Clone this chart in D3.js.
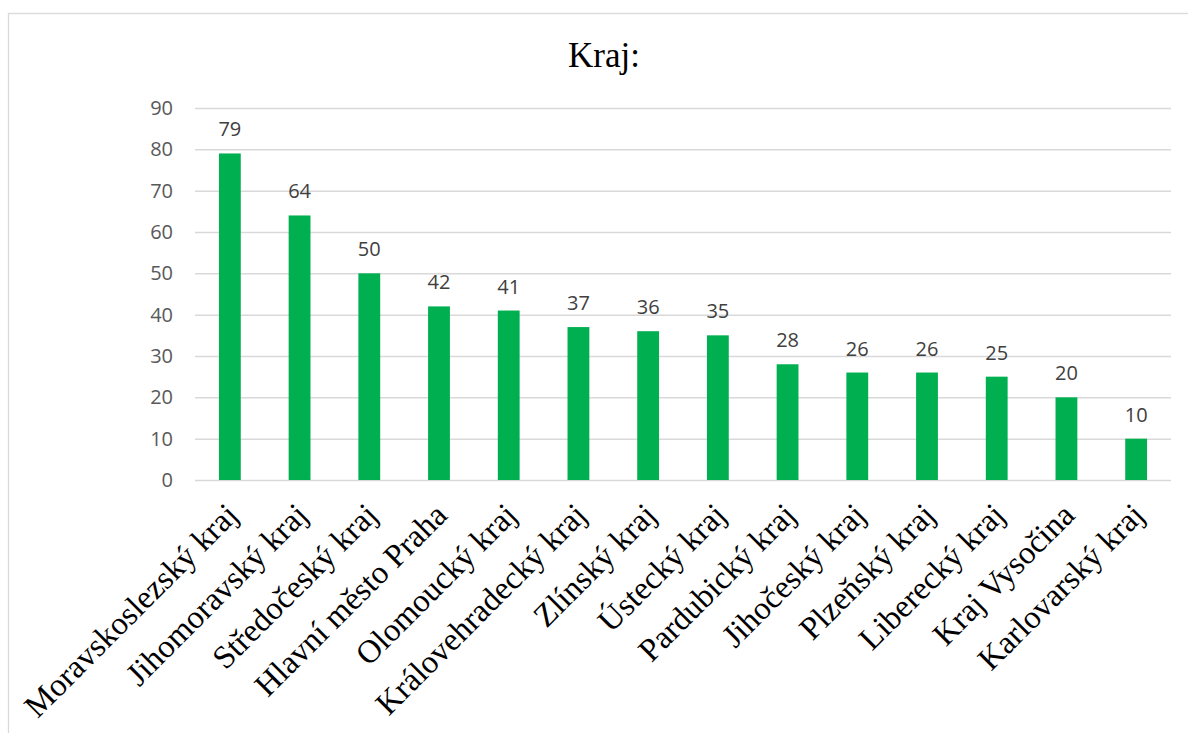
<!DOCTYPE html>
<html>
<head>
<meta charset="utf-8">
<script src="https://cdn.jsdelivr.net/npm/d3@7"></script>
<style>
  html, body { margin: 0; padding: 0; background: #fff; }
  svg { display: block; }
</style>
</head>
<body>
<svg id="chart" width="1188" height="733"></svg>
<script>
// Počet podle krajů
const categories = [
  "Moravskoslezský kraj", "Jihomoravský kraj", "Středočeský kraj", "Hlavní město Praha",
  "Olomoucký kraj", "Královehradecký kraj", "Zlínský kraj", "Ústecký kraj",
  "Pardubický kraj", "Jihočeský kraj", "Plzeňský kraj", "Liberecký kraj",
  "Kraj Vysočina", "Karlovarský kraj"
];
const values = [79, 64, 50, 42, 41, 37, 36, 35, 28, 26, 26, 25, 20, 10];
const yTicks = [0, 10, 20, 30, 40, 50, 60, 70, 80, 90];
const title = "Kraj:";

const svg = d3.select("#chart");
const W = 1188, H = 733;
const plot = { left: 195, right: 1171, top: 108, bottom: 480 };

// Chart frame
svg.append("rect")
  .attr("x", 8.5).attr("y", 13.5)
  .attr("width", W + 10).attr("height", H + 10)
  .attr("fill", "#fff").attr("stroke", "#d9d9d9").attr("stroke-width", 1.3);

const x = d3.scaleBand()
  .domain(categories)
  .range([plot.left, plot.right])
  .paddingInner(0.687).paddingOuter(0.3435);

const y = d3.scaleLinear().domain([0, 90]).range([plot.bottom, plot.top]);

// Title
svg.append("text")
  .attr("x", 604).attr("y", 67)
  .attr("text-anchor", "middle")
  .attr("font-family", "'Liberation Serif', 'Times New Roman', serif")
  .attr("font-size", 35)
  .attr("fill", "#000")
  .text(title);

// Gridlines and value axis
const yAxis = d3.axisLeft(y).tickValues(yTicks).tickSize(-(plot.right - plot.left)).tickPadding(22);
const gy = svg.append("g").attr("transform", `translate(${plot.left},0)`).call(yAxis);
gy.select(".domain").remove();
gy.selectAll(".tick line").attr("stroke", "#d9d9d9").attr("stroke-width", 1.5);
gy.selectAll(".tick text")
  .attr("fill", "#595959")
  .attr("font-family", "'Open Sans', 'Liberation Sans', sans-serif")
  .attr("font-size", 20);

// Bars
svg.append("g").selectAll("rect")
  .data(values)
  .join("rect")
  .attr("x", (d, i) => x(categories[i]))
  .attr("y", d => y(d))
  .attr("width", x.bandwidth())
  .attr("height", d => y(0) - y(d))
  .attr("fill", "#00b050");

// Value labels
svg.append("g").selectAll("text")
  .data(values)
  .join("text")
  .attr("x", (d, i) => x(categories[i]) + x.bandwidth() / 2)
  .attr("y", d => y(d) - 17)
  .attr("text-anchor", "middle")
  .attr("font-family", "'Open Sans', 'Liberation Sans', sans-serif")
  .attr("font-size", 20)
  .attr("fill", "#404040")
  .text(d => d);

// Category labels, rotated
svg.append("g").selectAll("text")
  .data(categories)
  .join("text")
  .attr("transform", d => `translate(${x(d) + x.bandwidth() / 2 + 10},517) rotate(-45)`)
  .attr("text-anchor", "end")
  .attr("font-family", "'Liberation Serif', 'Times New Roman', serif")
  .attr("font-size", 32.5)
  .attr("fill", "#000")
  .text(d => d);
</script>
</body>
</html>
